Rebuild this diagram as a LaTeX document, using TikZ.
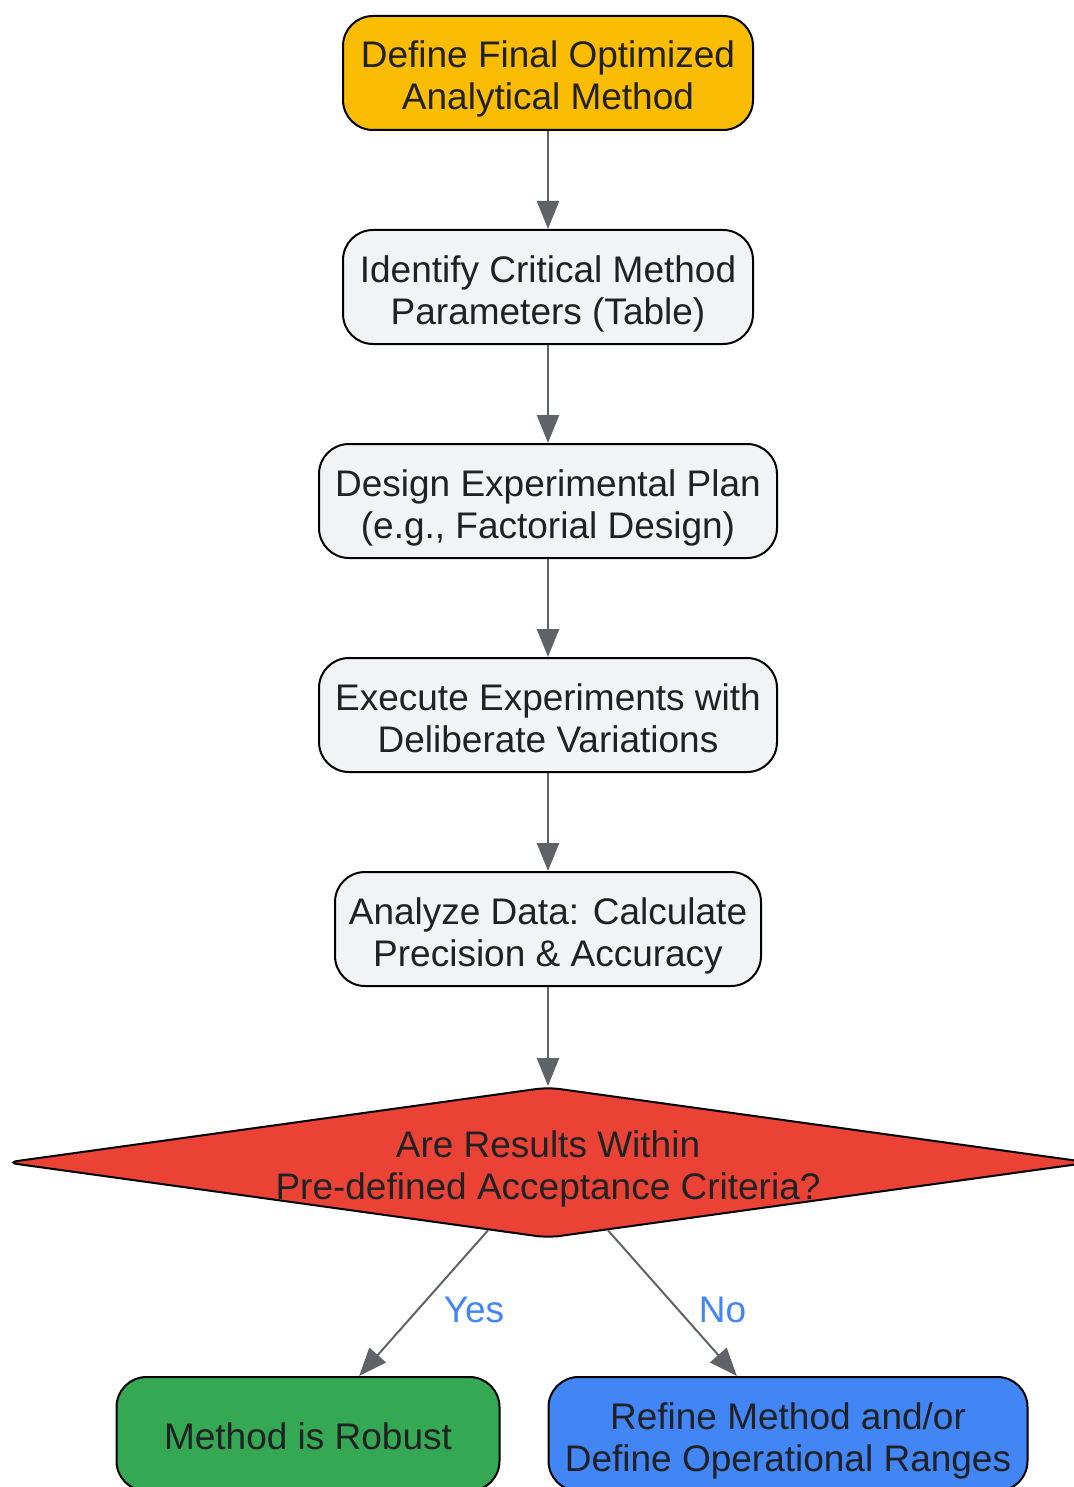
\documentclass[tikz,border=0pt]{standalone}
\usepackage{fontspec}
\setmainfont{Liberation Sans}
\usetikzlibrary{positioning,shapes.geometric,arrows.meta}
\definecolor{startyellow}{HTML}{FBBC04}
\definecolor{stepgray}{HTML}{F1F3F4}
\definecolor{checkred}{HTML}{EA4335}
\definecolor{okgreen}{HTML}{34A853}
\definecolor{fixblue}{HTML}{4285F4}
\definecolor{inkgray}{HTML}{202124}
\definecolor{linegray}{HTML}{5F6368}
\begin{document}
\begin{tikzpicture}[x=1pt, y=1pt, node distance=98pt,
        bigfont/.style={font=\fontsize{37}{42}\selectfont},
        twolines/.style={text height=81pt, text depth=7pt},
        box/.style={bigfont, twolines, draw=black, line width=2pt, rounded corners=30pt, align=center,
            minimum height=114pt, inner sep=0pt, text=inkgray},
        flow/.style={draw=linegray, line width=2.5pt, -{Triangle[length=28pt, width=22pt]}},
        answer/.style={bigfont, text=fixblue, yshift=-7pt}]
    \useasboundingbox (0,0) rectangle (1073,-1487);
    % main steps
    \node[box, fill=startyellow, minimum width=410pt] (define) at (548,-73) {Define Final Optimized\\Analytical Method};
    \node[box, fill=stepgray, minimum width=410pt, below=of define] (identify) {Identify Critical Method\\Parameters (Table)};
    \node[box, fill=stepgray, minimum width=458pt, below=of identify] (design) {Design Experimental Plan\\(e.g., Factorial Design)};
    \node[box, fill=stepgray, minimum width=458pt, below=of design] (execute) {Execute Experiments with\\Deliberate Variations};
    \node[box, fill=stepgray, minimum width=426pt, below=of execute] (analyze) {Analyze Data: Calculate\\Precision \& Accuracy};
    % decision
    \node[diamond, draw=black, fill=checkred, line width=2pt, rounded corners=12pt, inner sep=0pt,
        minimum width=1084pt, minimum height=151pt, below=99pt of analyze] (decide) {};
    \node[bigfont, twolines, align=center, text=inkgray, inner sep=0pt] (question) at (decide) {Are Results Within\\Pre-defined Acceptance Criteria?};
    % outcomes
    \node[box, fill=okgreen, minimum width=383pt, text height=30pt, text depth=0pt] (robust) at (308,-1434) {Method is Robust};
    \node[box, fill=fixblue, minimum width=479pt] (refine) at (788,-1434) {Refine Method and/or\\Define Operational Ranges};

    \draw[flow] (define) -- (identify);
    \draw[flow] (identify) -- (design);
    \draw[flow] (design) -- (execute);
    \draw[flow] (execute) -- (analyze);
    \draw[flow] (analyze) -- (decide);
    \draw[flow, line width=2pt] (decide) -- node[answer, right=16pt] (yes) {Yes} (robust);
    \draw[flow, line width=2pt] (decide) -- node[answer, right=22pt] (no) {No} (refine);
\end{tikzpicture}
\end{document}
